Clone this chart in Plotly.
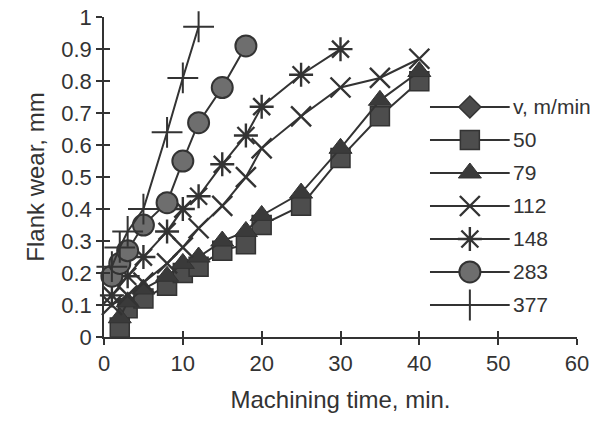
import plotly.graph_objects as go

# ---- data ----
t50 = [2, 3, 5, 8, 10, 12, 15, 18, 20, 25, 30, 35, 40]
w50 = [0.03, 0.09, 0.12, 0.16, 0.20, 0.22, 0.27, 0.29, 0.35, 0.41, 0.56, 0.69, 0.80]

t79 = [2, 3, 5, 8, 10, 12, 15, 18, 20, 25, 30, 35, 40]
w79 = [0.06, 0.11, 0.15, 0.19, 0.23, 0.25, 0.30, 0.33, 0.38, 0.45, 0.59, 0.74, 0.83]

t112 = [1, 3, 5, 8, 10, 12, 15, 18, 20, 25, 30, 35, 40]
w112 = [0.10, 0.13, 0.17, 0.23, 0.28, 0.34, 0.41, 0.50, 0.59, 0.69, 0.78, 0.81, 0.87]

t148 = [1, 3, 5, 8, 10, 12, 15, 18, 20, 25, 30]
w148 = [0.13, 0.19, 0.25, 0.33, 0.40, 0.44, 0.54, 0.63, 0.72, 0.82, 0.90]

t283 = [1, 2, 3, 5, 8, 10, 12, 15, 18]
w283 = [0.19, 0.23, 0.27, 0.35, 0.42, 0.55, 0.67, 0.78, 0.91]

t377 = [1, 2, 3, 5, 8, 10, 12]
w377 = [0.22, 0.28, 0.33, 0.40, 0.64, 0.81, 0.97]

legend_labels = ["v, m/min", "50", "79", "112", "148", "283", "377"]
x_ticks = [0, 10, 20, 30, 40, 50, 60]
y_ticks = [0, 0.1, 0.2, 0.3, 0.4, 0.5, 0.6, 0.7, 0.8, 0.9, 1]

# ---- styles ----
INK = "#333333"
FONT = "Liberation Sans, Arial, sans-serif"
styles = {
    "v, m/min": dict(symbol="diamond", size=17, color="#4a4a4a", line=dict(color=INK, width=1.5)),
    "50": dict(symbol="square", size=19, color="#4d4d4d", line=dict(color=INK, width=1.5)),
    "79": dict(symbol="triangle-up", size=20, color="#3a3a3a", line=dict(color=INK, width=1)),
    "112": dict(symbol="x-thin-open", size=20, color=INK, line=dict(color=INK, width=2.4)),
    "148": dict(symbol="asterisk-open", size=20, color=INK, line=dict(color=INK, width=2.4)),
    "283": dict(symbol="circle", size=21, color="#6e6e6e", line=dict(color=INK, width=2)),
    "377": dict(symbol="cross-thin-open", size=22, color=INK, line=dict(color=INK, width=2)),
}

series = [("50", t50, w50), ("79", t79, w79), ("112", t112, w112),
          ("148", t148, w148), ("283", t283, w283), ("377", t377, w377)]

fig = go.Figure()
for name, t, w in series:
    fig.add_trace(go.Scatter(
        x=t, y=w, mode="lines+markers", name=name, showlegend=False,
        line=dict(color=INK, width=2), marker=styles[name], cliponaxis=False))

# dummy trace for crossing (inside) ticks
fig.add_trace(go.Scatter(x=[None], y=[None], xaxis="x2", yaxis="y2", showlegend=False))

# custom legend drawn on hidden axes
for i, lab in enumerate(legend_labels):
    fig.add_trace(go.Scatter(x=[0, 2], y=[i, i], mode="lines", xaxis="x3", yaxis="y3",
                             line=dict(color=INK, width=2), showlegend=False, cliponaxis=False))
    fig.add_trace(go.Scatter(x=[1], y=[i], mode="markers", xaxis="x3", yaxis="y3",
                             marker=styles[lab], showlegend=False, cliponaxis=False))
    fig.add_annotation(x=2, y=i, xref="x3", yref="y3", text=lab, showarrow=False,
                       xanchor="left", xshift=1, font=dict(size=21, color=INK, family=FONT))

axis_common = dict(showgrid=False, zeroline=False, color=INK, automargin=False)
fig.update_layout(
    width=605, height=432,
    margin=dict(l=104, r=28, t=17, b=95, autoexpand=False),
    paper_bgcolor="white", plot_bgcolor="rgba(0,0,0,0)",
    font=dict(family=FONT, color=INK, size=22),
    showlegend=False,
    xaxis=dict(range=[0, 60], tickvals=x_ticks, ticks="outside", ticklen=6, tickwidth=1.5,
               tickcolor=INK, showline=True, linecolor=INK, linewidth=1.5,
               ticklabeloverflow="allow",
               tickfont=dict(size=22), title=dict(text="Machining time, min.", font=dict(size=24), standoff=16),
               **axis_common),
    yaxis=dict(range=[0, 1.0005], tickvals=y_ticks, ticks="outside", ticklen=6, tickwidth=1.5,
               tickcolor=INK, showline=True, linecolor=INK, linewidth=1.5,
               ticklabeloverflow="allow",
               tickfont=dict(size=22), title=dict(text="Flank wear, mm", font=dict(size=24), standoff=10),
               **axis_common),
    xaxis2=dict(overlaying="x", anchor="y", range=[0, 60], tickvals=x_ticks, ticks="inside",
                ticklen=6, tickwidth=1.5, tickcolor=INK, showticklabels=False, showline=False,
                **axis_common),
    yaxis2=dict(overlaying="y", anchor="x", range=[0, 1.0005], tickvals=y_ticks, ticks="inside",
                ticklen=6, tickwidth=1.5, tickcolor=INK, showticklabels=False, showline=False,
                **axis_common),
    xaxis3=dict(domain=[0.689, 0.858], anchor="y3", range=[0, 2], visible=False, **axis_common),
    yaxis3=dict(domain=[0, 1], anchor="x3", range=[6.97, -2.727], visible=False, **axis_common),
)

fig.write_html("out.html", config={"displayModeBar": False},
               post_script="document.body.style.margin='0';")
